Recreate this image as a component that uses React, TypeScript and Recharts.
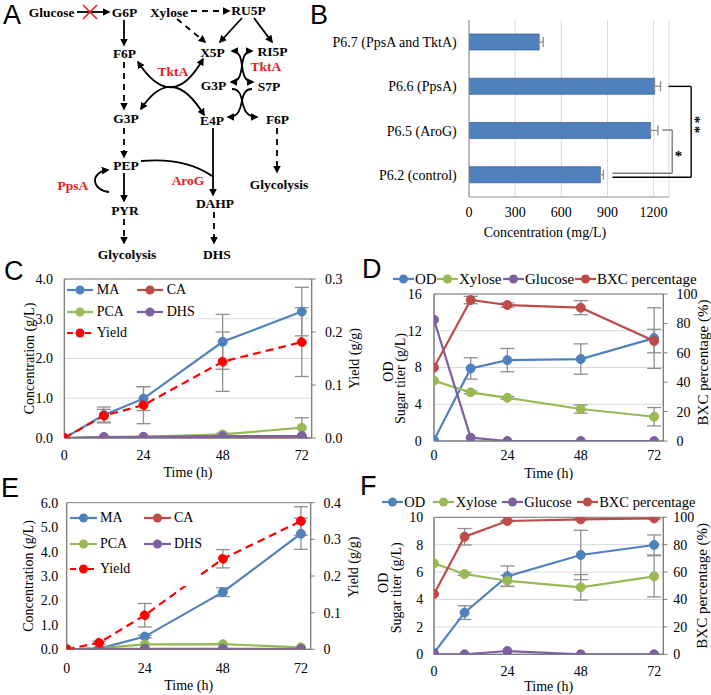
import React from 'react';
import {
  BarChart, Bar, LineChart, Line, XAxis, YAxis, CartesianGrid, ErrorBar,
  ReferenceLine, ReferenceArea, Legend,
} from 'recharts';

const SERIF = '"Liberation Serif", "Times New Roman", Times, serif';
const SANS = '"Liberation Sans", Arial, Helvetica, sans-serif';

// ---------- Panel B data ----------
const strainNames = ['P6.7 (PpsA and TktA)', 'P6.6 (PpsA)', 'P6.5 (AroG)', 'P6.2 (control)'];
const strainConc = [456, 1206, 1180, 854];
const strainErr = [26, 39, 48, 20];
const concTicks = [0, 300, 600, 900, 1200];

// ---------- Panel C data ----------
const timeC = [0, 12, 24, 48, 72];
const maC = [0, 0.58, 0.99, 2.42, 3.18];
const maErrC = [0, 0.2, 0.3, 0.69, 0.61];
const caC = [0, 0.01, 0.01, 0.02, 0.03];
const pcaC = [0, 0.02, 0.03, 0.09, 0.26];
const pcaErrC = [0, 0.01, 0.01, 0.03, 0.25];
const dhsC = [0, 0.025, 0.03, 0.045, 0.05];
const yieldC = [0, 0.042, 0.062, 0.144, 0.181];
const yieldErrC = [0, 0.012, 0.035, 0.056, 0.065];

// ---------- Panel D data ----------
const timeD = [0, 12, 24, 48, 72];
const odD = [0.1, 7.9, 8.8, 8.92, 11.2];
const odErrD = [0, 1.16, 1.27, 1.65, 3.3];
const xyloseD = [6.56, 5.3, 4.7, 3.48, 2.64];
const xyloseErrD = [0, 0.15, 0.15, 0.45, 1.0];
const glucoseD = [13.2, 0.36, 0, 0, 0];
const bxcD = [50, 95.9, 92.5, 90.7, 68];
const bxcErrD = [0, 2.5, 1.5, 4.8, 8];

// ---------- Panel E data ----------
const timeE = [0, 10, 24, 48, 72];
const maE = [0, 0.03, 0.52, 2.34, 4.73];
const maErrE = [0, 0, 0.05, 0.18, 0.64];
const caE = [0, 0, 0, 0, 0];
const pcaE = [0, 0.05, 0.2, 0.21, 0.08];
const dhsE = [0, 0.02, 0.02, 0.02, 0.02];
const yieldE = [0, 0.018, 0.093, 0.247, 0.35];
const yieldErrE = [0, 0.004, 0.032, 0.025, 0.039];

// ---------- Panel F data ----------
const timeF = [0, 10, 24, 48, 72];
const odF = [0.1, 3.04, 5.7, 7.25, 7.98];
const odErrF = [0, 0.5, 0.75, 1.8, 0.73];
const xyloseF = [6.64, 5.86, 5.37, 4.89, 5.69];
const xyloseErrF = [0, 0.1, 0.4, 0.93, 1.5];
const glucoseF = [0, 0, 0.24, 0, 0];
const bxcF = [44, 85.8, 97.3, 98.5, 99.2];
const bxcErrF = [0, 6, 0.5, 0.5, 0.5];

const timeTicks = [0, 24, 48, 72];
const concTicksC = [0, 1, 2, 3, 4];
const yieldTicksC = [0, 0.1, 0.2, 0.3];
const concTicksE = [0, 1, 2, 3, 4, 5, 6];
const yieldTicksE = [0, 0.1, 0.2, 0.3, 0.4];
const odTicksD = [0, 4, 8, 12, 16];
const odTicksF = [0, 2, 4, 6, 8, 10];
const pctTicks = [0, 20, 40, 60, 80, 100];

// ---------- colours / styles ----------
const BLUE = '#4F81BD';
const RED = '#BE4B48';
const GREEN = '#98B954';
const PURPLE = '#7D60A0';
const YIELD = '#FF0000';
const AX = '#8C8C8C';
const FRAME = '#7A7A7A';
const GRID = '#D9D9D9';
const ERR = '#8F8F8F';
const TICK = { fontSize: 14, fontFamily: SERIF, fill: '#000' };

const seriesCE = [
  { key: 'ma', err: 'maErr', name: 'MA', color: BLUE, axis: 'l' },
  { key: 'ca', name: 'CA', color: RED, axis: 'l' },
  { key: 'pca', err: 'pcaErr', name: 'PCA', color: GREEN, axis: 'l' },
  { key: 'dhs', name: 'DHS', color: PURPLE, axis: 'l' },
  { key: 'yld', err: 'yldErr', name: 'Yield', color: YIELD, axis: 'r', dashed: true },
];
const seriesDF = [
  { key: 'od', err: 'odErr', name: 'OD', color: BLUE, axis: 'l' },
  { key: 'xyl', err: 'xylErr', name: 'Xylose', color: GREEN, axis: 'l' },
  { key: 'glc', name: 'Glucose', color: PURPLE, axis: 'l' },
  { key: 'bxc', err: 'bxcErr', name: 'BXC percentage', color: RED, axis: 'r' },
];

const bData = strainNames.map((name, i) => ({ name, value: strainConc[i], err: [0, strainErr[i]] }));
const cData = timeC.map((t, i) => ({
  t, ma: maC[i], maErr: maErrC[i], ca: caC[i], pca: pcaC[i], pcaErr: pcaErrC[i],
  dhs: dhsC[i], yld: yieldC[i], yldErr: yieldErrC[i],
}));
const eData = timeE.map((t, i) => ({
  t, ma: maE[i], maErr: maErrE[i], ca: caE[i], pca: pcaE[i],
  dhs: dhsE[i], yld: yieldE[i], yldErr: yieldErrE[i],
}));
const dData = timeD.map((t, i) => ({
  t, od: odD[i], odErr: odErrD[i], xyl: xyloseD[i], xylErr: xyloseErrD[i],
  glc: glucoseD[i], bxc: bxcD[i], bxcErr: bxcErrD[i],
}));
const fData = timeF.map((t, i) => ({
  t, od: odF[i], odErr: odErrF[i], xyl: xyloseF[i], xylErr: xyloseErrF[i],
  glc: glucoseF[i], bxc: bxcF[i], bxcErr: bxcErrF[i],
}));

// ---------- axis title renderers ----------
function vTitle(lines: { text: string; dx: number; dy: number }[], fs = 14) {
  return (props: any) => {
    const vb = props.viewBox || { x: 0, y: 0, width: 0, height: 0 };
    const base = vb.y + vb.height / 2;
    return (
      <g>
        {lines.map((l, i) => {
          const cx = vb.x + l.dx;
          const cy = base + l.dy;
          return (
            <text key={i} x={cx} y={cy} transform={`rotate(-90 ${cx} ${cy})`} textAnchor="middle"
              dominantBaseline="central" fontSize={fs} fontFamily={SERIF} fill="#000">{l.text}</text>
          );
        })}
      </g>
    );
  };
}
function hTitle(text: string, dy: number, dx: number) {
  return (props: any) => {
    const vb = props.viewBox || { x: 0, y: 0, width: 0, height: 0 };
    return (
      <text x={vb.x + vb.width / 2 + dx} y={vb.y + dy} textAnchor="middle" dominantBaseline="central"
        fontSize={14} fontFamily={SERIF} fill="#000">{text}</text>
    );
  };
}

// ---------- legend ----------
function LegendContent({ series, pos, iconW, gap, fs, box }: any) {
  return (
    <div style={{ position: 'relative', width: '100%', height: '100%' }}>
      {box && (
        <div style={{ position: 'absolute', left: box[0], top: box[1], width: box[2], height: box[3], background: '#fff' }} />
      )}
      {series.map((s: any, i: number) => (
        <div key={s.key} style={{
          position: 'absolute', left: pos[i][0], top: pos[i][1] - 10, height: 20, display: 'flex',
          alignItems: 'center', whiteSpace: 'nowrap', fontFamily: SERIF, fontSize: fs, color: '#000', lineHeight: '20px',
        }}>
          <svg width={iconW} height={12} style={{ display: 'block' }}>
            <line x1={0} y1={6} x2={iconW} y2={6} stroke={s.color} strokeWidth={2.2}
              strokeDasharray={s.dashed ? '6 3' : undefined} />
            <circle cx={iconW / 2} cy={6} r={4.5} fill={s.color} />
          </svg>
          <span style={{ marginLeft: gap }}>{s.name}</span>
        </div>
      ))}
    </div>
  );
}

// ---------- time-course chart ----------
function TimeCourse(p: any) {
  const { x, y, w, h, mt, xh, lw, rw, data, series, lAxis, rAxis, grid, xtm, xTitleDy, legend } = p;
  return (
    <div style={{ position: 'absolute', left: x, top: y, width: w, height: h }}>
      <LineChart width={w} height={h} data={data} margin={{ top: mt, right: 0, bottom: 0, left: 0 }}>
        {grid && <CartesianGrid yAxisId="l" vertical={false} stroke={GRID} strokeWidth={1} />}
        <XAxis dataKey="t" type="number" domain={[0, 75]} ticks={timeTicks} allowDataOverflow height={xh}
          tickLine={false} tickSize={0} tickMargin={xtm} axisLine={{ stroke: FRAME }} tick={TICK}
          label={{ content: hTitle('Time (h)', xTitleDy, 0) }} />
        <YAxis yAxisId="l" type="number" domain={lAxis.domain} ticks={lAxis.ticks} allowDataOverflow
          tickFormatter={lAxis.fmt} width={lw} tickLine={false} tickSize={0} tickMargin={lAxis.tm}
          axisLine={{ stroke: FRAME }} tick={TICK} label={{ content: vTitle(lAxis.title) }} />
        <YAxis yAxisId="r" orientation="right" type="number" domain={rAxis.domain} ticks={rAxis.ticks}
          allowDataOverflow tickFormatter={rAxis.fmt} width={rw} tickLine={{ stroke: FRAME }} tickSize={4}
          tickMargin={rAxis.tm} axisLine={{ stroke: FRAME }} tick={TICK}
          label={{ content: vTitle(rAxis.title, rAxis.fs || 14) }} />
        <ReferenceArea yAxisId="l" x1={0} x2={75} y1={lAxis.domain[0]} y2={lAxis.domain[1]} fill="none"
          stroke={FRAME} strokeWidth={1} ifOverflow="visible" />
        {series.map((s: any) => (
          <Line key={s.key} yAxisId={s.axis} type="linear" dataKey={s.key} name={s.name} stroke={s.color}
            strokeWidth={2.2} strokeDasharray={s.dashed ? '8 5' : undefined}
            dot={{ r: 4.5, fill: s.color, stroke: s.color, strokeWidth: 1 }} activeDot={false}
            isAnimationActive={false}>
            {s.err && <ErrorBar dataKey={s.err} direction="y" width={7} stroke={ERR} strokeWidth={1.3} />}
          </Line>
        ))}
        <Legend layout="vertical" align="center" verticalAlign="middle"
          wrapperStyle={{ left: 0, top: 0, width: w, height: h, pointerEvents: 'none', margin: 0, padding: 0 }}
          content={() => <LegendContent series={series} {...legend} />} />
      </LineChart>
    </div>
  );
}

// ---------- Panel B bracket shapes ----------
function bracket(color: string, dy1: number, dy2: number, star?: { text: string; dx: number; dy: number }) {
  return (props: any) => {
    const x1 = props.x1, x2 = props.x2, y1 = props.y1 + dy1, y2 = props.y2 + dy2;
    const mid = (y1 + y2) / 2;
    const sx = x1 + (star ? star.dx : 0);
    const sy = mid + (star ? star.dy : 0);
    return (
      <g>
        <line x1={x1} y1={y1} x2={x2} y2={y2} stroke={color} strokeWidth={1.4} />
        {star && (
          <text x={sx} y={sy} transform={star.text.length > 1 ? `rotate(90 ${sx} ${sy})` : undefined}
            textAnchor="middle" dominantBaseline="central" fontSize={15} letterSpacing={2.5}
            fontFamily={SERIF} fontWeight="bold" fill="#000">{star.text}</text>
        )}
      </g>
    );
  };
}

function PanelB() {
  const n6 = strainNames[1], n5 = strainNames[2], n2 = strainNames[3];
  return (
    <div style={{ position: 'absolute', left: 320, top: 0, width: 391, height: 245 }}>
      <BarChart width={391} height={245} layout="vertical" data={bData}
        margin={{ top: 20, right: 42, bottom: 0, left: 0 }}>
        <CartesianGrid horizontal={false} stroke={GRID} />
        <XAxis type="number" domain={[0, 1300]} ticks={concTicks} allowDataOverflow height={48}
          tickLine={false} tickSize={0} tickMargin={10.5} axisLine={{ stroke: AX }} tick={TICK}
          label={{ content: hTitle('Concentration (mg/L)', 35, -24) }} />
        <YAxis type="category" dataKey="name" width={149} tickLine={false} tickSize={0} tickMargin={12.3}
          axisLine={{ stroke: AX }} tick={TICK} />
        <Bar dataKey="value" fill="#4F81BD" stroke="#3B6698" strokeWidth={0.8} barSize={16}
          isAnimationActive={false}>
          <ErrorBar dataKey="err" direction="x" width={5} stroke={ERR} strokeWidth={1.3} />
        </Bar>
        {/* AroG vs control (*) */}
        <ReferenceLine segment={[{ x: 1256, y: n5 }, { x: 1321, y: n5 }]} ifOverflow="visible"
          shape={bracket('#7F7F7F', -0.6, -0.6)} />
        <ReferenceLine segment={[{ x: 1321, y: n5 }, { x: 1321, y: n2 }]} ifOverflow="visible"
          shape={bracket('#7F7F7F', -0.6, -1.6, { text: '*', dx: 7.5, dy: 4 })} />
        <ReferenceLine segment={[{ x: 932, y: n2 }, { x: 1321, y: n2 }]} ifOverflow="visible"
          shape={bracket('#7F7F7F', -1.6, -1.6)} />
        {/* PpsA vs control (**) */}
        <ReferenceLine segment={[{ x: 1297, y: n6 }, { x: 1444, y: n6 }]} ifOverflow="visible"
          shape={bracket('#000', 0, 0)} />
        <ReferenceLine segment={[{ x: 1444, y: n6 }, { x: 1444, y: n2 }]} ifOverflow="visible"
          shape={bracket('#000', 0, 2.4, { text: '**', dx: 4, dy: -6 })} />
        <ReferenceLine segment={[{ x: 932, y: n2 }, { x: 1444, y: n2 }]} ifOverflow="visible"
          shape={bracket('#000', 2.4, 2.4)} />
      </BarChart>
    </div>
  );
}

// ---------- Panel A (pathway diagram) ----------
function PanelA() {
  const black = (t: string, x: number, y: number) => (
    <text x={x} y={y} textAnchor="middle" dominantBaseline="central" fontWeight="bold" fontSize={13.5}
      fontFamily={SERIF} fill="#000">{t}</text>
  );
  const red = (t: string, x: number, y: number) => (
    <text x={x} y={y} textAnchor="middle" dominantBaseline="central" fontWeight="bold" fontSize={13.5}
      fontFamily={SERIF} fill="#E3211C">{t}</text>
  );
  const arr = (d: string, dashed?: boolean, both?: boolean, head = true) => (
    <path d={d} fill="none" stroke="#000" strokeWidth={1.8} strokeDasharray={dashed ? '6 5' : undefined}
      markerEnd={head ? 'url(#ah)' : undefined} markerStart={both ? 'url(#ah)' : undefined} />
  );
  return (
    <svg width={330} height={265} style={{ position: 'absolute', left: 0, top: 0 }}>
      <defs>
        <marker id="ah" viewBox="0 0 10 10" refX="8" refY="5" markerWidth="4.3" markerHeight="4.3"
          orient="auto-start-reverse">
          <path d="M0,0 L10,5 L0,10 z" fill="#000" />
        </marker>
      </defs>
      {black('Glucose', 51.5, 12)}
      {arr('M77,12 L109,12')}
      <line x1={83} y1={5} x2={97} y2={19} stroke="#E3211C" strokeWidth={1.6} />
      <line x1={83} y1={19} x2={97} y2={5} stroke="#E3211C" strokeWidth={1.6} />
      {black('G6P', 124.5, 12)}
      {black('Xylose', 169, 12)}
      {arr('M191,11 L229,11', true)}
      {black('RU5P', 248.5, 10)}
      {arr('M177,19 L205,42', true)}
      {arr('M242,18 L220,42')}
      {arr('M254,18 L272,42')}
      {arr('M124,20 L124,45')}
      {black('F6P', 124.5, 53)}
      {black('X5P', 212.5, 52)}
      {black('RI5P', 272.5, 51)}
      {red('TktA', 173, 71)}
      {red('TktA', 266, 66)}
      {black('G3P', 213.5, 85)}
      {black('S7P', 269, 86)}
      {arr('M138,62 Q172,114 203,59', false, true)}
      {arr('M141,109 Q172,62 204,115', false, true)}
      {arr('M232,51 C248,51 236,82 253,82', false, true)}
      {arr('M252,51 C236,51 248,82 231,82', false, true)}
      {arr('M232,89 C248,89 236,117 257,117')}
      {arr('M252,89 C236,89 248,117 228,117')}
      {arr('M124,62 L124,109', true)}
      {black('G3P', 126, 118)}
      {black('E4P', 212, 120)}
      {black('F6P', 277.5, 119)}
      {arr('M124,128 L124,157', true)}
      {arr('M277,128 L277,172', true)}
      {black('PEP', 126, 165)}
      {red('PpsA', 73, 185)}
      {red('AroG', 188, 180)}
      {black('Glycolysis', 279, 184)}
      {arr('M124,173 L124,201')}
      {arr('M213,128 L213,195')}
      {arr('M141,161 Q185,157 212,176', false, false, false)}
      {arr('M109,192 C91,190 90,172 108,170')}
      {black('PYR', 125, 210)}
      {black('DAHP', 215, 203)}
      {arr('M124,219 L124,243', true)}
      {arr('M214,212 L214,243', true)}
      {black('Glycolysis', 127, 254)}
      {black('DHS', 217, 254)}
    </svg>
  );
}

function Letters() {
  const L = (t: string, x: number, y: number) => (
    <text x={x} y={y} fontFamily={SANS} fontSize={27} fill="#000">{t}</text>
  );
  return (
    <svg width={711} height={695} style={{ position: 'absolute', left: 0, top: 0, pointerEvents: 'none' }}>
      {L('A', 3, 24)}
      {L('B', 310, 24)}
      {L('C', 4, 280)}
      {L('D', 362, 278)}
      {L('E', 1, 497)}
      {L('F', 360, 495)}
    </svg>
  );
}

export default function App() {
  const f1 = (v: number) => v.toFixed(1);
  return (
    <div style={{ position: 'absolute', left: 0, top: 0, width: 711, height: 695, background: '#fff', overflow: 'hidden' }}>
      <PanelA />
      <PanelB />
      <TimeCourse
        x={0} y={255} w={365} h={225} mt={24} xh={42} lw={64.3} rw={53.3} data={cData} series={seriesCE}
        grid xtm={11.7} xTitleDy={34.3}
        lAxis={{ domain: [0, 4], ticks: concTicksC, fmt: f1, tm: 11.3, title: [{ text: 'Concentration (g/L)', dx: 29.3, dy: 0 }] }}
        rAxis={{ domain: [0, 0.3], ticks: yieldTicksC, fmt: f1, tm: 9.3, title: [{ text: 'Yield (g/g)', dx: 42.3, dy: 0 }] }}
        legend={{ pos: [[66.7, 35], [136.7, 35], [66.7, 57.3], [136.7, 57.3], [66.7, 78.3]], iconW: 26, gap: 4, fs: 14, box: [65.3, 25, 132, 65] }}
      />
      <TimeCourse
        x={355} y={265} w={356} h={215} mt={29} xh={39} lw={79} rw={47.7} data={dData} series={seriesDF}
        grid xtm={8.7} xTitleDy={32.3}
        lAxis={{ domain: [0, 16], ticks: odTicksD, tm: 12.3, title: [{ text: 'OD', dx: 33, dy: 4 }, { text: 'Sugar titer (g/L)', dx: 45, dy: 11 }] }}
        rAxis={{ domain: [0, 100], ticks: pctTicks, tm: 9.3, fs: 15, title: [{ text: 'BXC percentage (%)', dx: 39.7, dy: -5 }] }}
        legend={{ pos: [[38, 14], [82, 14], [148, 14], [220, 14]], iconW: 21, gap: 1, fs: 15 }}
      />
      <TimeCourse
        x={0} y={485} w={365} h={210} mt={17.7} xh={45.7} lw={66.7} rw={54.3} data={eData} series={seriesCE}
        grid={false} xtm={13.7} xTitleDy={35.7}
        lAxis={{ domain: [0, 6], ticks: concTicksE, fmt: f1, tm: 8.4, title: [{ text: 'Concentration (g/L)', dx: 28, dy: 0 }] }}
        rAxis={{ domain: [0, 0.4], ticks: yieldTicksE, tm: 8.7, title: [{ text: 'Yield (g/g)', dx: 42.3, dy: -9 }] }}
        legend={{ pos: [[70, 33.3], [144, 33.3], [70, 59.3], [144, 59.3], [70, 84.3]], iconW: 27, gap: 3, fs: 14, box: [67.7, 18.7, 132, 82] }}
      />
      <TimeCourse
        x={355} y={485} w={356} h={210} mt={32.3} xh={40.7} lw={79} rw={47.7} data={fData} series={seriesDF}
        grid xtm={12.1} xTitleDy={32.4}
        lAxis={{ domain: [0, 10], ticks: odTicksF, tm: 10.7, title: [{ text: 'OD', dx: 28.3, dy: -3 }, { text: 'Sugar titer (g/L)', dx: 41.7, dy: 2 }] }}
        rAxis={{ domain: [0, 100], ticks: pctTicks, tm: 6, fs: 15, title: [{ text: 'BXC percentage (%)', dx: 38.4, dy: 0 }] }}
        legend={{ pos: [[26.7, 16.7], [78.3, 16.7], [146.7, 16.7], [221.7, 16.7]], iconW: 21, gap: 1.5, fs: 14.5 }}
      />
      <Letters />
    </div>
  );
}
